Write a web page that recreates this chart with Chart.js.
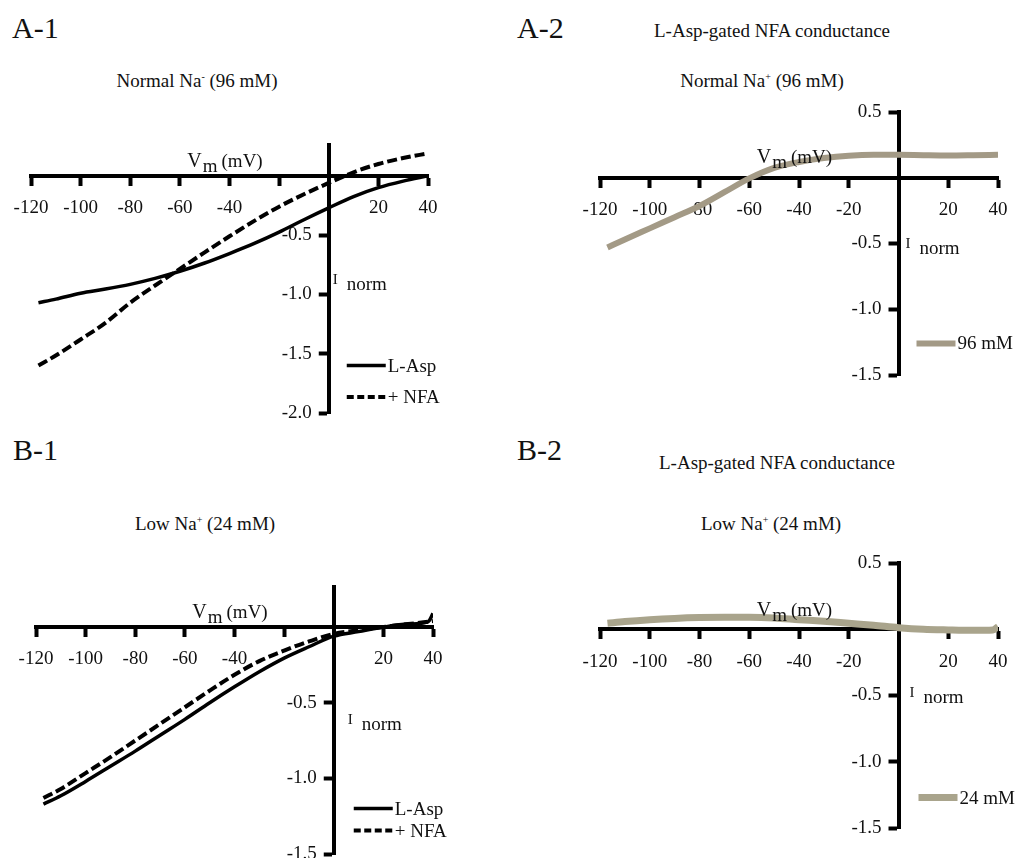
<!DOCTYPE html>
<html>
<head>
<meta charset="utf-8">
<script src="https://cdn.jsdelivr.net/npm/chart.js@4"></script>
<style>
  body { margin:0; background:#fff; width:1017px; height:858px; position:relative; overflow:hidden;
         font-family:"Liberation Serif","Times New Roman",serif; color:#111; }
  .lbl { position:absolute; font-size:30px; line-height:1; }
  .ttl { position:absolute; font-size:19px; line-height:1; transform:translateX(-50%); white-space:nowrap; }
  .ttl sup { font-size:10px; vertical-align:7px; line-height:0; }
  canvas { position:absolute; }
</style>
</head>
<body>
<div class="lbl" style="left:12px;top:13px">A-1</div>
<div class="lbl" style="left:517px;top:13px">A-2</div>
<div class="lbl" style="left:13px;top:435px">B-1</div>
<div class="lbl" style="left:517px;top:435px">B-2</div>

<div class="ttl" style="left:197px;top:71px">Normal Na<sup>-</sup> (96 mM)</div>
<div class="ttl" style="left:772px;top:21px">L-Asp-gated NFA conductance</div>
<div class="ttl" style="left:762px;top:71px">Normal Na<sup>+</sup> (96 mM)</div>
<div class="ttl" style="left:205px;top:514px">Low Na<sup>+</sup> (24 mM)</div>
<div class="ttl" style="left:777px;top:453px">L-Asp-gated NFA conductance</div>
<div class="ttl" style="left:771px;top:514px">Low Na<sup>+</sup> (24 mM)</div>

<canvas id="a1" width="470" height="340" style="left:0;top:100px"></canvas>
<canvas id="a2" width="517" height="330" style="left:500px;top:80px"></canvas>
<canvas id="b1" width="470" height="298" style="left:0;top:560px"></canvas>
<canvas id="b2" width="517" height="328" style="left:500px;top:530px"></canvas>

<script>
// membrane potential (mV) and normalised current
const vmA1  = [-117, -110, -100, -90, -80, -70, -60, -50, -40, -30, -20, -10, 0, 10, 20, 30, 40];
const aspA1 = [-1.07, -1.04, -0.99, -0.955, -0.915, -0.865, -0.805, -0.735, -0.655, -0.57, -0.475, -0.37, -0.27, -0.175, -0.10, -0.045, 0.0];
const nfaA1 = [-1.60, -1.515, -1.38, -1.24, -1.07, -0.925, -0.785, -0.645, -0.51, -0.38, -0.26, -0.155, -0.06, 0.03, 0.10, 0.15, 0.19];

const vmA2   = [-117, -110, -100, -90, -80, -70, -60, -50, -40, -30, -20, -10, 0, 10, 20, 30, 40];
const diffA2 = [-0.53, -0.47, -0.385, -0.30, -0.215, -0.11, -0.005, 0.075, 0.12, 0.15, 0.168, 0.175, 0.175, 0.172, 0.17, 0.172, 0.175];

const vmB1  = [-117, -110, -100, -90, -80, -70, -60, -50, -40, -30, -20, -10, 0, 10, 20, 30, 38, 40];
const aspB1 = [-1.17, -1.115, -1.02, -0.92, -0.82, -0.715, -0.61, -0.50, -0.395, -0.295, -0.205, -0.13, -0.06, -0.03, 0.0, 0.02, 0.035, 0.09];
const nfaB1 = [-1.13, -1.07, -0.965, -0.86, -0.75, -0.64, -0.53, -0.42, -0.315, -0.225, -0.155, -0.095, -0.045, -0.02, 0.0, 0.02, 0.035, 0.04];

const vmB2   = [-117, -110, -100, -90, -80, -70, -60, -50, -40, -30, -20, -10, 0, 10, 20, 30, 38, 40];
const diffB2 = [0.045, 0.058, 0.072, 0.082, 0.088, 0.09, 0.09, 0.085, 0.072, 0.06, 0.045, 0.03, 0.012, 0.0, -0.005, -0.008, -0.005, 0.02];

const seriesNames1 = ['L-Asp', '+ NFA'];
const seriesNamesA2 = ['96 mM'];
const seriesNamesB2 = ['24 mM'];

const xTicks   = [-120, -100, -80, -60, -40, -20, 20, 40];
const xLabels1 = ['-120', '-100', '-80', '-60', '-40', '', '20', '40'];
const xLabels2 = ['-120', '-100', '-80', '-60', '-40', '-20', '20', '40'];
const yTicksA1  = [-2.0, -1.5, -1.0, -0.5];
const yLabelsA1 = ['-2.0', '-1.5', '-1.0', '-0.5'];
const yTicksB1  = [-1.5, -1.0, -0.5];
const yLabelsB1 = ['-1.5', '-1.0', '-0.5'];
const yTicks2   = [-1.5, -1.0, -0.5, 0.5];
const yLabels2  = ['-1.5', '-1.0', '-0.5', '0.5'];

const TXT = '#111';
const SERIF = '"Liberation Serif", "Times New Roman", serif';
Chart.defaults.font.family = SERIF;

const pts = (xs, ys) => xs.map((x, i) => ({x: x, y: ys[i]}));

// put the y axis on x = 0 instead of the left edge
// (left stays wide open, the labels are clipped to left..right)
const yAxisAtZero = {
  id: 'yAxisAtZero',
  afterLayout(chart) {
    const px = chart.scales.x.getPixelForValue(0);
    chart.scales.y.left = 0;
    chart.scales.y.right = px;
  }
};

// axis titles and the small legend next to the y axis
const decorations = {
  id: 'decorations',
  afterDraw(chart, args, d) {
    const ctx = chart.ctx, xs = chart.scales.x, ys = chart.scales.y;
    const x0 = xs.getPixelForValue(0), y0 = ys.getPixelForValue(0);
    ctx.save();
    ctx.fillStyle = TXT;
    ctx.textAlign = 'left';
    ctx.textBaseline = 'alphabetic';

    ctx.font = '20px ' + SERIF;
    let x = xs.getPixelForValue(-57), y = y0 - d.vmLift;
    ctx.fillText('V', x, y);
    x += ctx.measureText('V').width + 1;
    ctx.font = '19px ' + SERIF;
    ctx.fillText('m', x, y + 5);
    x += ctx.measureText('m').width + 4;
    ctx.fillText('(mV)', x, y);

    ctx.font = '15px ' + SERIF;
    ctx.fillText('I', x0 + d.iDx, y0 + d.iDy - 6);
    ctx.font = '19px ' + SERIF;
    ctx.fillText('norm', x0 + d.iDx + 14, y0 + d.iDy);

    d.legend.forEach((yv, i) => {
      const ds = chart.data.datasets[i];
      const ly = ys.getPixelForValue(yv), lx = x0 + d.legDx;
      ctx.strokeStyle = ds.borderColor;
      ctx.lineWidth = ds.borderWidth;
      ctx.setLineDash(ds.legendDash || []);
      ctx.beginPath();
      ctx.moveTo(lx, ly);
      ctx.lineTo(lx + 39, ly);
      ctx.stroke();
      ctx.fillText(ds.label, lx + 41, ly + 6);
    });
    ctx.restore();
  }
};

function makePanel(id, o) {
  return new Chart(document.getElementById(id), {
    type: 'line',
    data: { datasets: o.datasets },
    options: {
      responsive: false,
      animation: false,
      devicePixelRatio: 1,
      layout: { padding: o.pad },
      elements: { point: { radius: 0 }, line: { cubicInterpolationMode: 'monotone' } },
      plugins: {
        legend: { display: false },
        tooltip: { enabled: false },
        decorations: o.deco
      },
      scales: {
        x: {
          type: 'linear', position: { y: 0 }, min: -120, max: 40,
          afterFit: s => { s.height = 0; s.paddingLeft = 0; s.paddingRight = 0; },
          afterBuildTicks: s => { s.ticks = xTicks.map(v => ({ value: v })); },
          ticks: { autoSkip: false, maxRotation: 0, padding: 13, color: TXT,
                   font: { size: 19 }, callback: (v, i) => o.xLabels[i] },
          grid: { drawOnChartArea: false, tickLength: 8, tickWidth: 4, tickColor: '#000' },
          border: { width: 4, color: '#000' }
        },
        y: {
          type: 'linear', position: 'left', min: o.ymin, max: o.ymax,
          afterFit: s => { s.width = 0; s.paddingTop = 0; s.paddingBottom = 0; },
          afterBuildTicks: s => { s.ticks = o.yTicks.map(v => ({ value: v })); },
          ticks: { autoSkip: false, padding: 7, color: TXT,
                   font: { size: 19 }, callback: (v, i) => o.yLabels[i] },
          grid: { drawOnChartArea: false, tickLength: 10, tickWidth: 4, tickColor: '#000' },
          border: { width: 4, color: '#000' }
        }
      }
    },
    plugins: [yAxisAtZero, decorations]
  });
}

const solid = (label, xs, ys) => ({ label: label, data: pts(xs, ys), borderColor: '#000', borderWidth: 3.5 });
const dashed = (label, xs, ys) => ({ label: label, data: pts(xs, ys), borderColor: '#000', borderWidth: 4,
                                     borderDash: [10, 4], legendDash: [7, 3.5] });

makePanel('a1', {
  pad: { left: 31, right: 42, top: 45, bottom: 27 },
  ymin: -2.0, ymax: 0.26,
  xLabels: xLabels1, yTicks: yTicksA1, yLabels: yLabelsA1,
  datasets: [solid(seriesNames1[0], vmA1, aspA1), dashed(seriesNames1[1], vmA1, nfaA1)],
  deco: { vmLift: 9, iDx: 4, iDy: 114, legDx: 18, legend: [-1.60, -1.865] }
});

makePanel('a2', {
  pad: { left: 100, right: 19, top: 32, bottom: 35 },
  ymin: -1.5, ymax: 0.5,
  xLabels: xLabels2, yTicks: yTicks2, yLabels: yLabels2,
  datasets: [{ label: seriesNamesA2[0], data: pts(vmA2, diffA2), borderColor: '#a39a86', borderWidth: 6 }],
  deco: { vmLift: 15, iDx: 7, iDy: 76, legDx: 18, legend: [-1.26] }
});

makePanel('b1', {
  pad: { left: 36, right: 37, top: 27, bottom: 4 },
  ymin: -1.5, ymax: 0.265,
  xLabels: xLabels1, yTicks: yTicksB1, yLabels: yLabelsB1,
  datasets: [solid(seriesNames1[0], vmB1, aspB1), dashed(seriesNames1[1], vmB1, nfaB1)],
  deco: { vmLift: 9, iDx: 14, iDy: 103, legDx: 20, legend: [-1.20, -1.345] }
});

makePanel('b2', {
  pad: { left: 100, right: 19, top: 33, bottom: 30 },
  ymin: -1.5, ymax: 0.5,
  xLabels: xLabels2, yTicks: yTicks2, yLabels: yLabels2,
  datasets: [{ label: seriesNamesB2[0], data: pts(vmB2, diffB2), borderColor: '#a9a48c', borderWidth: 7 }],
  deco: { vmLift: 13, iDx: 11, iDy: 74, legDx: 20, legend: [-1.27] }
});
</script>
</body>
</html>
